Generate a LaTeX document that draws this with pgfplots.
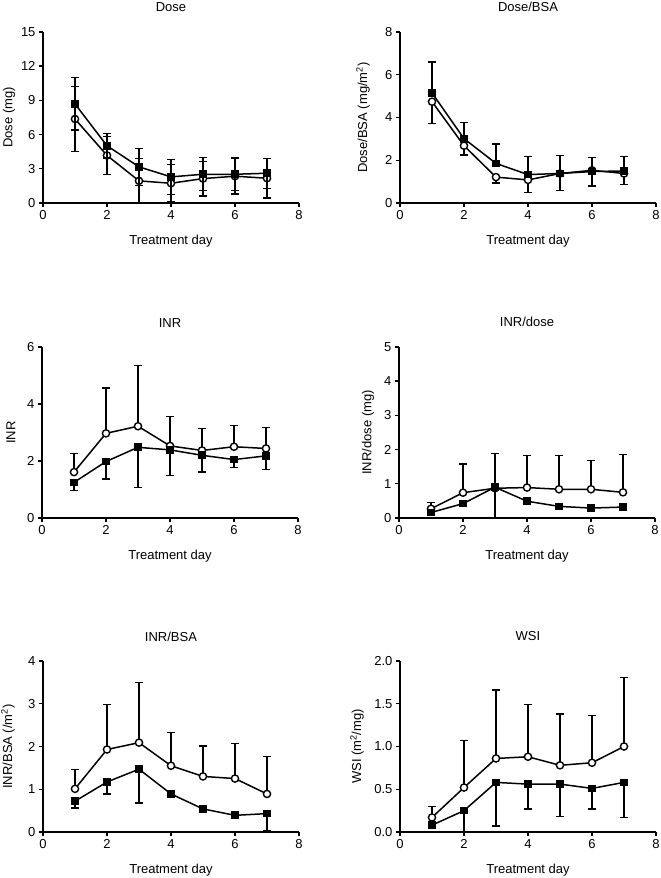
\documentclass[border=0pt]{standalone}
\usepackage{pgfplots}
\pgfplotsset{compat=1.18}
\usepackage{fontspec}
\setmainfont{Liberation Sans}
\newcommand{\fs}{\fontsize{13}{15}\selectfont}
\pgfplotsset{
  panel/.style={
    scale only axis, width=256pt, height=171pt,
    xmin=0, xmax=8, ymin=0, xtick={0,2,4,6,8},
    axis x line*=bottom, axis y line*=left,
    tick align=outside, major tick length=4pt,
    axis line style={line width=1.4pt},
    every tick/.style={line width=1.4pt, black},
    xlabel={Treatment day},
    tick label style={font=\fs},
    label style={font=\fs},
    title style={font=\fs, at={(0.5,1)}, anchor=base, yshift=14pt},
    xlabel style={yshift=-8pt},
    /pgf/number format/assume math mode=true,
    clip mode=individual,
  },
  yl/.style={ylabel style={at={(axis description cs:-#1/256,0.5)}, anchor=center, rotate=0}},
  ci/.style={black, line width=1.5pt, mark=*, mark size=3.6pt,
    mark options={solid, fill=white, line width=1.4pt},
    error bars/.cd, y explicit, y dir=#1,
    error bar style={line width=1.3pt},
    error mark options={rotate=90, mark size=3.6pt, line width=1.3pt}},
  sq/.style={black, line width=1.5pt, mark=square*, mark size=3.1pt,
    mark options={solid, fill=black},
    error bars/.cd, y explicit, y dir=#1,
    error bar style={line width=1.3pt},
    error mark options={rotate=90, mark size=3.6pt, line width=1.3pt}},
}
\begin{document}
\begin{tikzpicture}
\useasboundingbox (0pt,0pt) rectangle (661pt,878pt);
% Dose
\begin{axis}[panel, yl=34, at={(43pt,675pt)}, anchor=south west,
  ymax=15, ytick={0,3,6,9,12,15}, title={Dose}, ylabel={Dose (mg)}]
\addplot[ci=both] coordinates {(1,7.37)+-(0,2.87) (2,4.17)+-(0,1.65) (3,1.94)+-(0,1.94) (4,1.73)+-(0,1.62) (5,2.14)+-(0,1.53) (6,2.35)+-(0,1.55) (7,2.17)+-(0,1.72)};
\addplot[sq=both] coordinates {(1,8.69)+-(0,2.29) (2,5.02)+-(0,1.08) (3,3.17)+-(0,1.61) (4,2.29)+-(0,1.53) (5,2.52)+-(0,1.44) (6,2.52)+-(0,1.45) (7,2.61)+-(0,1.32)};
\end{axis}
% Dose/BSA
\begin{axis}[panel, yl=37, at={(400pt,675pt)}, anchor=south west,
  ymax=8, ytick={0,2,4,6,8}, title={Dose/BSA}, ylabel={Dose/BSA (mg/m\textsuperscript{2})}]
\addplot[ci=minus] coordinates {(1,4.74)+-(0,1.03) (2,2.68)+-(0,0.43) (3,1.21)+-(0,0.27) (4,1.08)+-(0,0.59) (5,1.38)+-(0,0.80) (6,1.53)+-(0,0.73) (7,1.38)+-(0,0.52)};
\addplot[sq=plus] coordinates {(1,5.15)+-(0,1.44) (2,3.01)+-(0,0.75) (3,1.85)+-(0,0.91) (4,1.33)+-(0,0.86) (5,1.38)+-(0,0.83) (6,1.47)+-(0,0.67) (7,1.50)+-(0,0.68)};
\end{axis}
% INR
\begin{axis}[panel, yl=31, at={(42pt,360pt)}, anchor=south west,
  ymax=6, ytick={0,2,4,6}, title={INR}, ylabel={INR}]
\addplot[ci=plus] coordinates {(1,1.61)+-(0,0.65) (2,2.97)+-(0,1.59) (3,3.22)+-(0,2.12) (4,2.53)+-(0,1.02) (5,2.37)+-(0,0.76) (6,2.50)+-(0,0.74) (7,2.44)+-(0,0.74)};
\addplot[sq=minus] coordinates {(1,1.25)+-(0,0.28) (2,1.98)+-(0,0.61) (3,2.48)+-(0,1.40) (4,2.39)+-(0,0.90) (5,2.20)+-(0,0.59) (6,2.05)+-(0,0.28) (7,2.18)+-(0,0.49)};
\end{axis}
% INR/dose
\begin{axis}[panel, yl=31, at={(399pt,360pt)}, anchor=south west,
  ymax=5, ytick={0,1,2,3,4,5}, title={INR/dose}, ylabel={INR/dose (mg)}]
\addplot[ci=plus] coordinates {(1,0.27)+-(0,0.18) (2,0.74)+-(0,0.84) (3,0.87)+-(0,1.02) (4,0.89)+-(0,0.93) (5,0.84)+-(0,0.98) (6,0.84)+-(0,0.85) (7,0.75)+-(0,1.11)};
\addplot[sq=minus] coordinates {(1,0.16)+-(0,0.03) (2,0.42)+-(0,0.03) (3,0.90)+-(0,0.90) (4,0.49)+-(0,0.03) (5,0.34)+-(0,0.03) (6,0.29)+-(0,0.03) (7,0.32)+-(0,0.03)};
\end{axis}
% INR/BSA
\begin{axis}[panel, yl=35, at={(43pt,46pt)}, anchor=south west,
  ymax=4, ytick={0,1,2,3,4}, title={INR/BSA}, ylabel={INR/BSA (/m\textsuperscript{2})}]
\addplot[ci=plus] coordinates {(1,1.01)+-(0,0.45) (2,1.93)+-(0,1.05) (3,2.09)+-(0,1.41) (4,1.55)+-(0,0.77) (5,1.30)+-(0,0.71) (6,1.25)+-(0,0.82) (7,0.89)+-(0,0.87)};
\addplot[sq=minus] coordinates {(1,0.72)+-(0,0.16) (2,1.17)+-(0,0.28) (3,1.47)+-(0,0.79) (4,0.89)+-(0,0.07) (5,0.54)+-(0,0.04) (6,0.39)+-(0,0.04) (7,0.43)+-(0,0.41)};
\end{axis}
% WSI
\begin{axis}[panel, yl=43, at={(400pt,46pt)}, anchor=south west,
  ymax=2, ytick={0,0.5,1,1.5,2}, title={WSI}, ylabel={WSI (m\textsuperscript{2}/mg)},
  yticklabel style={/pgf/number format/.cd, fixed, fixed zerofill, precision=1}]
\addplot[ci=plus] coordinates {(1,0.17)+-(0,0.13) (2,0.52)+-(0,0.55) (3,0.86)+-(0,0.80) (4,0.88)+-(0,0.61) (5,0.78)+-(0,0.60) (6,0.81)+-(0,0.55) (7,1.00)+-(0,0.81)};
\addplot[sq=minus] coordinates {(1,0.08)+-(0,0.03) (2,0.25)+-(0,0.25) (3,0.58)+-(0,0.51) (4,0.56)+-(0,0.29) (5,0.56)+-(0,0.38) (6,0.51)+-(0,0.24) (7,0.58)+-(0,0.41)};
\end{axis}
\end{tikzpicture}
\end{document}
